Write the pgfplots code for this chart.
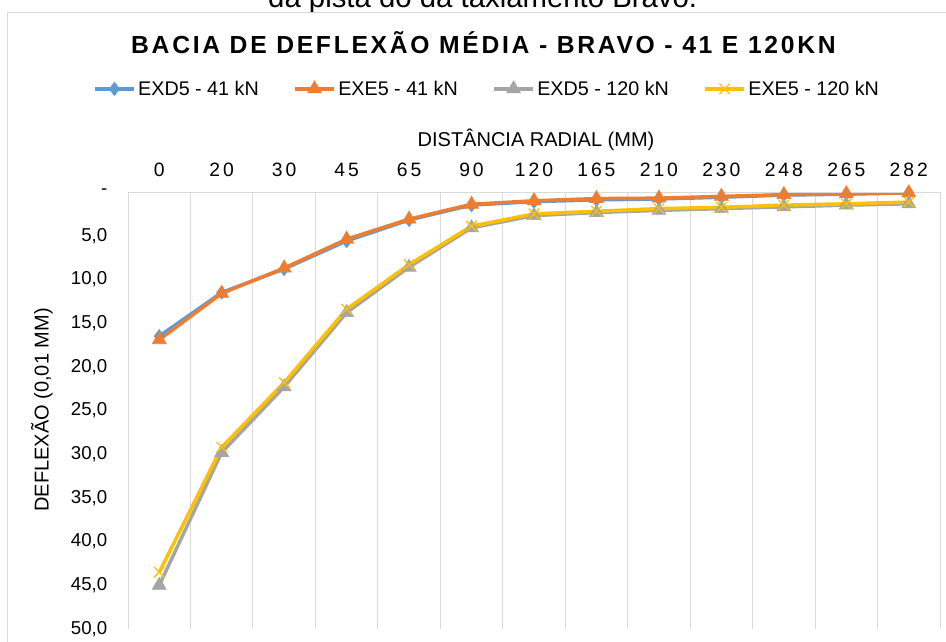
\documentclass[border=0pt]{standalone}
\usepackage{pgfplots}
\pgfplotsset{compat=1.18}
\usepackage{fontspec}
\setmainfont{Liberation Sans}
\newfontfamily\spacedfont[LetterSpace=15]{Liberation Sans}
\newfontfamily\titlefont[LetterSpace=11]{Liberation Sans}

\definecolor{cblue}{HTML}{5B9BD5}
\definecolor{corange}{HTML}{ED7D31}
\definecolor{cgray}{HTML}{A5A5A5}
\definecolor{cyellow}{HTML}{FFC000}
\definecolor{gridc}{HTML}{D9D9D9}

\begin{document}
\begin{tikzpicture}
\useasboundingbox (0,0) rectangle (709.5pt,-481.5pt);
% caption of the page, cut by the top edge
\node[anchor=base, font=\fontsize{22}{26}\selectfont, inner sep=0pt] at (362pt,-6pt) {da pista do da taxiamento Bravo.};
% chart area border
\draw[gridc, line width=0.75pt] (5.25pt,-9.5pt) rectangle (720pt,-500pt);
% title
\node[font=\titlefont\bfseries\fontsize{18.5}{22}\selectfont] at (362.6pt,-32pt) {BACIA DE DEFLEXÃO MÉDIA - BRAVO - 41 E 120KN};
% axis labels
\node[font=\fontsize{15}{18}\selectfont] at (402pt,-105pt) {DISTÂNCIA RADIAL (MM)};
\node[font=\fontsize{15}{18}\selectfont, rotate=90] at (31.5pt,-307.5pt) {DEFLEXÃO (0,01 MM)};

\begin{axis}[
    name=main,
    at={(96pt,-471.75pt)}, anchor=south west,
    width=609pt, height=327.75pt, scale only axis,
    xmin=-0.5, xmax=12.5, ymin=0, ymax=50,
    y dir=reverse,
    axis line style={draw=none},
    xtick={0,...,12},
    xticklabels={0,20,30,45,65,90,120,165,210,230,248,265,282},
    xticklabel pos=upper,
    xticklabel style={font=\spacedfont\fontsize{14.5}{17}\selectfont, yshift=8pt},
    ytick={0,5,...,50},
    yticklabels={-,{5,0},{10,0},{15,0},{20,0},{25,0},{30,0},{35,0},{40,0},{45,0},{50,0}},
    yticklabel style={font=\fontsize{14}{17}\selectfont, xshift=-12pt},
    major tick length=0pt, minor tick length=0pt,
    minor xtick={-0.5,0.5,...,12.5},
    xminorgrids,
    minor grid style={gridc, line width=0.75pt},
    legend columns=4,
    legend style={draw=none, fill=none, at={(axis description cs:0.4427,1.236)}, anchor=center,
        font=\fontsize{14.8}{17}\selectfont,
        /tikz/every even column/.append style={column sep=24pt}},
    legend image code/.code={\draw[mark repeat=2,mark phase=2,#1] plot coordinates {(0pt,0pt)(14.5pt,0pt)(29pt,0pt)};},
    every axis plot/.append style={line width=2.6pt},
]
\addplot[cblue, mark=diamond*, mark size=5pt, mark options={solid, line width=0.5pt}]
coordinates {(0,16.5)(1,11.5)(2,8.8)(3,5.6)(4,3.2)(5,1.5)(6,1.1)(7,0.9)(8,0.8)(9,0.6)(10,0.35)(11,0.25)(12,0.1)};
\addplot[corange, mark=triangle*, mark size=6pt, mark options={solid, line width=0.5pt}]
coordinates {(0,16.9)(1,11.6)(2,8.7)(3,5.4)(4,3.1)(5,1.4)(6,1.0)(7,0.75)(8,0.7)(9,0.5)(10,0.3)(11,0.2)(12,0.1)};
\addplot[cgray, mark=triangle*, mark size=6pt, mark options={solid, line width=0.5pt}]
coordinates {(0,45.0)(1,29.8)(2,22.3)(3,13.8)(4,8.6)(5,4.1)(6,2.7)(7,2.35)(8,2.1)(9,1.9)(10,1.7)(11,1.5)(12,1.35)};
\addplot[cyellow, mark=x, mark size=5.5pt, mark options={solid, line width=1pt}]
coordinates {(0,43.5)(1,29.2)(2,21.8)(3,13.4)(4,8.3)(5,3.9)(6,2.5)(7,2.2)(8,1.9)(9,1.75)(10,1.5)(11,1.35)(12,1.15)};
\draw[gridc, line width=0.75pt] (axis cs:-0.5,0) -- (axis cs:12.5,0);
\legend{EXD5 - 41 kN, EXE5 - 41 kN, EXD5 - 120 kN, EXE5 - 120 kN}
\end{axis}
\end{tikzpicture}
\end{document}
